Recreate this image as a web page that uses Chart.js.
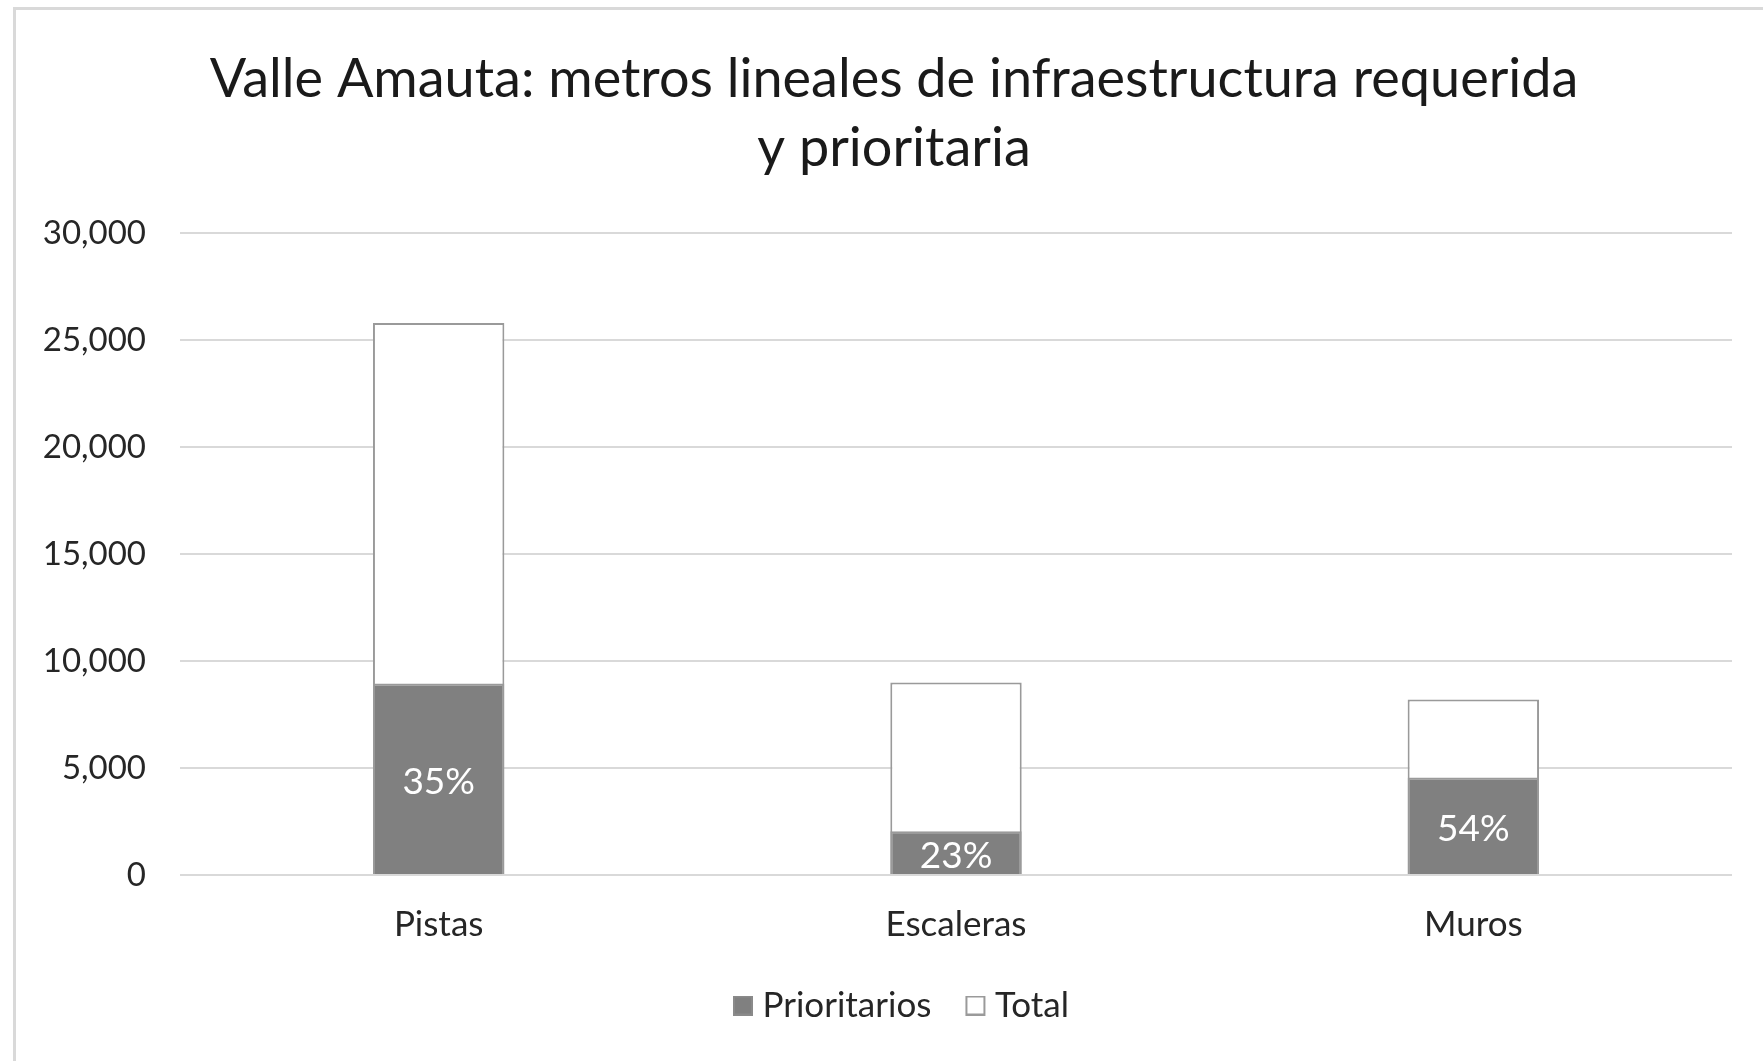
<!DOCTYPE html>
<html>
<head>
<meta charset="utf-8">
<script src="https://cdn.jsdelivr.net/npm/chart.js@4.4.1/dist/chart.umd.min.js"></script>
<style>
  html, body { margin: 0; padding: 0; background: #ffffff; overflow: hidden; }
  #frame { position: absolute; left: 13px; top: 7px; width: 1800px; height: 1100px;
           border-left: 3px solid #d9d9d9; border-top: 3px solid #d9d9d9; }
  #wrap { position: absolute; left: 0; top: 0; width: 1788px; height: 1061px; }
</style>
</head>
<body>
<div id="frame"></div>
<div id="wrap"><canvas id="c"></canvas></div>
<script>
const categories = ['Pistas', 'Escaleras', 'Muros'];
const prioritariosValues = [8950, 2040, 4560];
const totalValues = [25800, 9000, 8200];
const pctLabels = ['35%', '23%', '54%'];
const yTicks = [0, 5000, 10000, 15000, 20000, 25000, 30000];
const titleLines = ['Valle Amauta: metros lineales de infraestructura requerida', 'y prioritaria'];

const FONT = 'Lato, "Open Sans", sans-serif';

// legend marker images: a 20px square drawn at the right side of a 40px wide canvas
function makeMarker(fill, stroke) {
  const cv = document.createElement('canvas');
  cv.width = 40; cv.height = 20;
  const g = cv.getContext('2d');
  g.fillStyle = fill;
  g.fillRect(18, 0, 20, 20);
  g.strokeStyle = stroke;
  g.lineWidth = 2;
  g.strokeRect(19, 1, 18, 18);
  return cv;
}
const markers = [makeMarker('#808080', '#8a8a8a'), makeMarker('#ffffff', '#9a9a9a')];

const barLabelPlugin = {
  id: 'barLabels',
  afterDatasetsDraw(chart) {
    const meta = chart.getDatasetMeta(0);
    const ctx = chart.ctx;
    ctx.save();
    ctx.fillStyle = '#ffffff';
    ctx.font = '37px ' + FONT;
    ctx.textAlign = 'center';
    ctx.textBaseline = 'middle';
    meta.data.forEach((bar, i) => {
      const p = bar.getProps(['x', 'y', 'base'], true);
      ctx.fillText(pctLabels[i], p.x, (p.y + p.base) / 2 + 3);
    });
    ctx.restore();
  }
};

const legendShift = {
  id: 'legendShift',
  afterLayout(chart) {
    if (chart.legend) { chart.legend.left += 3; chart.legend.right += 3; }
  }
};

new Chart(document.getElementById('c'), {
  type: 'bar',
  data: {
    labels: categories,
    datasets: [
      {
        label: 'Prioritarios',
        data: prioritariosValues,
        backgroundColor: '#808080',
        borderColor: '#9a9a9a',
        borderWidth: 2,
        grouped: false,
        categoryPercentage: 1.0,
        barPercentage: 0.254
      },
      {
        label: 'Total',
        data: totalValues,
        backgroundColor: '#ffffff',
        borderColor: '#9a9a9a',
        borderWidth: 2,
        grouped: false,
        categoryPercentage: 1.0,
        barPercentage: 0.254
      }
    ]
  },
  options: {
    responsive: true,
    maintainAspectRatio: false,
    animation: false,
    layout: { padding: { left: 0, right: 0, top: 0, bottom: 28 } },
    plugins: {
      title: {
        display: true,
        text: titleLines,
        color: '#1a1a1a',
        font: { family: FONT, size: 54, weight: 'normal', lineHeight: 1.278 },
        padding: { top: 45, bottom: 50 }
      },
      legend: {
        position: 'bottom',
        labels: {
          color: '#262626',
          font: { family: FONT, size: 35 },
          usePointStyle: true,
          pointStyleWidth: 20,
          boxWidth: 20,
          boxHeight: 20,
          padding: 26,
          generateLabels(chart) {
            const items = Chart.defaults.plugins.legend.labels.generateLabels(chart);
            items.forEach((it, i) => { it.pointStyle = markers[i]; });
            return items;
          }
        }
      },
      tooltip: { enabled: false }
    },
    scales: {
      x: {
        grid: { display: false, drawTicks: false },
        border: { display: false },
        ticks: { color: '#262626', font: { family: FONT, size: 35 }, padding: 29 },
        afterFit(scale) { scale.height = 87; }
      },
      y: {
        min: 0,
        max: 30000,
        afterBuildTicks(scale) { scale.ticks = yTicks.map(v => ({ value: v })); },
        grid: { color: '#d9d9d9', lineWidth: 2, drawTicks: false },
        border: { display: false },
        ticks: {
          color: '#262626',
          font: { family: FONT, size: 33 },
          padding: 34,
          callback: (v) => Number(v).toLocaleString('en-US')
        },
        afterFit(scale) { scale.width = 180; }
      },
      yRight: {
        position: 'right',
        display: true,
        grid: { display: false, drawTicks: false },
        border: { display: false },
        ticks: { display: false },
        afterFit(scale) { scale.width = 56; }
      }
    }
  },
  plugins: [barLabelPlugin, legendShift]
});
</script>
</body>
</html>
